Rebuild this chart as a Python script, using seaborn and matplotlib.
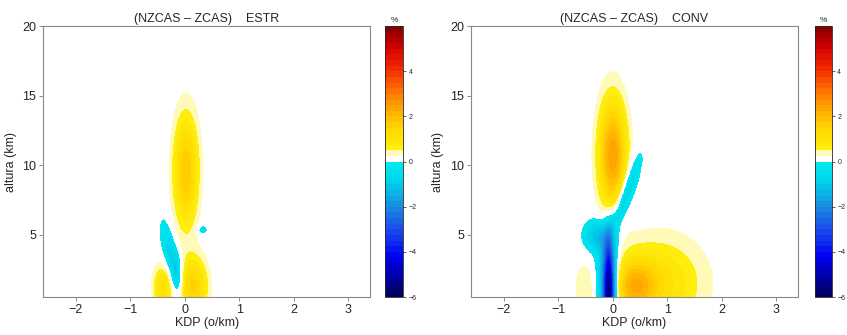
import numpy as np
import matplotlib
matplotlib.use("Agg")
import matplotlib.pyplot as plt
from matplotlib.colors import LinearSegmentedColormap, ListedColormap, BoundaryNorm
import seaborn as sns

# ---------------- data ----------------
titles = ["(NZCAS \u2013 ZCAS)    ESTR", "(NZCAS \u2013 ZCAS)    CONV"]
xlabel = "KDP (o/km)"
ylabel = "altura (km)"
xticks = [-2, -1, 0, 1, 2, 3]
yticks = [5, 10, 15, 20]
cbar_ticks = [-6, -4, -2, 0, 2, 4]
baseline = 0.05

# blobs of the difference field (%): centre x, centre y, width x, width y, shear dx/dy, amplitude
estr_x0 = [0.02, -0.40, 0.15, -0.24, -0.14, 0.32]
estr_y0 = [9.6, 1.2, 1.3, 3.2, 2.3, 5.35]
estr_sx = [0.15, 0.12, 0.17, 0.10, 0.07, 0.07]
estr_sy = [2.7, 1.1, 1.4, 1.8, 0.9, 0.25]
estr_sh = [0.0, 0.0, 0.0, -0.05, 0.0, 0.0]
estr_amp = [1.7, 1.1, 1.5, -1.0, -0.6, -0.6]

conv_x0 = [0.0, 0.38, 0.85, -0.08, -0.07, -0.30, 0.20, -0.48]
conv_y0 = [10.7, 1.3, 1.5, 1.5, 1.0, 4.9, 7.5, 1.1]
conv_sx = [0.17, 0.28, 0.55, 0.16, 0.075, 0.17, 0.11, 0.15]
conv_sy = [2.7, 1.3, 2.2, 2.4, 2.3, 0.8, 2.0, 1.4]
conv_sh = [0.0, 0.0, 0.0, 0.0, 0.0, 0.0, 0.085, 0.0]
conv_amp = [2.4, 1.6, 1.0, -1.6, -5.0, -1.1, -1.2, 0.40]

panels = [
    (estr_x0, estr_y0, estr_sx, estr_sy, estr_sh, estr_amp),
    (conv_x0, conv_y0, conv_sx, conv_sy, conv_sh, conv_amp),
]

# ---------------- style ----------------
sns.set_theme(style="white")
plt.rcParams["font.family"] = ["Liberation Sans", "DejaVu Sans"]

pos_map = LinearSegmentedColormap.from_list(
    "pos",
    [
        (0.00, (1.00, 0.98, 0.72)),
        (0.03, (1.00, 0.98, 0.72)),
        (0.06, (1.00, 0.93, 0.05)),
        (0.20, (1.00, 0.85, 0.00)),
        (0.36, (1.00, 0.66, 0.00)),
        (0.52, (1.00, 0.42, 0.00)),
        (0.68, (0.95, 0.15, 0.00)),
        (0.84, (0.82, 0.00, 0.00)),
        (1.00, (0.50, 0.00, 0.00)),
    ],
)
neg_map = LinearSegmentedColormap.from_list(
    "neg",
    [
        (0.00, (0.00, 0.93, 0.95)),
        (0.15, (0.00, 0.82, 0.92)),
        (0.33, (0.10, 0.55, 0.88)),
        (0.50, (0.10, 0.30, 0.92)),
        (0.70, (0.00, 0.00, 0.95)),
        (1.00, (0.00, 0.00, 0.35)),
    ],
)
levels = np.arange(-6, 6.01, 0.25)
nb = len(levels) - 1
half = nb // 2
neg_cols = [neg_map((half - 1 - k + 0.5) / half) for k in range(half)]
pos_cols = [(1.0, 1.0, 1.0, 1.0)] + [pos_map((k - 1 + 0.5) / (half - 1)) for k in range(1, half)]
cmap = ListedColormap(neg_cols + pos_cols)
norm = BoundaryNorm(levels, nb)

xg = np.linspace(-2.6, 3.4, 601)
yg = np.linspace(0.5, 20, 391)
X, Y = np.meshgrid(xg, yg)

fig = plt.figure(figsize=(8.47, 3.35), dpi=100)
ax_pos = [[0.051, 0.113, 0.386, 0.809], [0.556, 0.113, 0.386, 0.809]]
cb_pos = [[0.455, 0.113, 0.021, 0.809], [0.962, 0.113, 0.020, 0.809]]

for i, (bx, by, bsx, bsy, bsh, bamp) in enumerate(panels):
    Z = np.full_like(X, baseline)
    for x0, y0, sx, sy, sh, a in zip(bx, by, bsx, bsy, bsh, bamp):
        xc = x0 + sh * (Y - y0)
        Z += a * np.exp(-0.5 * (((X - xc) / sx) ** 2 + ((Y - y0) / sy) ** 2))
    Z[np.abs(Z) < 0.2] = baseline
    ax = fig.add_axes(ax_pos[i])
    cf = ax.contourf(X, Y, Z, levels=levels, cmap=cmap, norm=norm)
    ax.set_xlim(-2.6, 3.4)
    ax.set_ylim(0.5, 20)
    ax.set_xticks(xticks)
    ax.set_yticks(yticks)
    ax.set_xticklabels([f"\u2212{abs(t)}" if t < 0 else str(t) for t in xticks])
    ax.tick_params(labelsize=9, length=3, width=0.6, color="#777777", direction="out",
                   bottom=True, left=True, pad=2)
    for s in ax.spines.values():
        s.set_color("#888888")
        s.set_linewidth(0.8)
    ax.set_title(titles[i], fontsize=9, pad=3)
    ax.set_xlabel(xlabel, fontsize=9, labelpad=1)
    ax.set_ylabel(ylabel, fontsize=9, labelpad=4)

    cax = fig.add_axes(cb_pos[i])
    cb = fig.colorbar(cf, cax=cax, ticks=cbar_ticks)
    cb.minorticks_off()
    cb.ax.tick_params(labelsize=5, length=2, width=0.5, pad=2)
    cb.outline.set_linewidth(0.6)
    cax.set_title("%", fontsize=6, pad=3)

fig.savefig("out.png", dpi=100)
